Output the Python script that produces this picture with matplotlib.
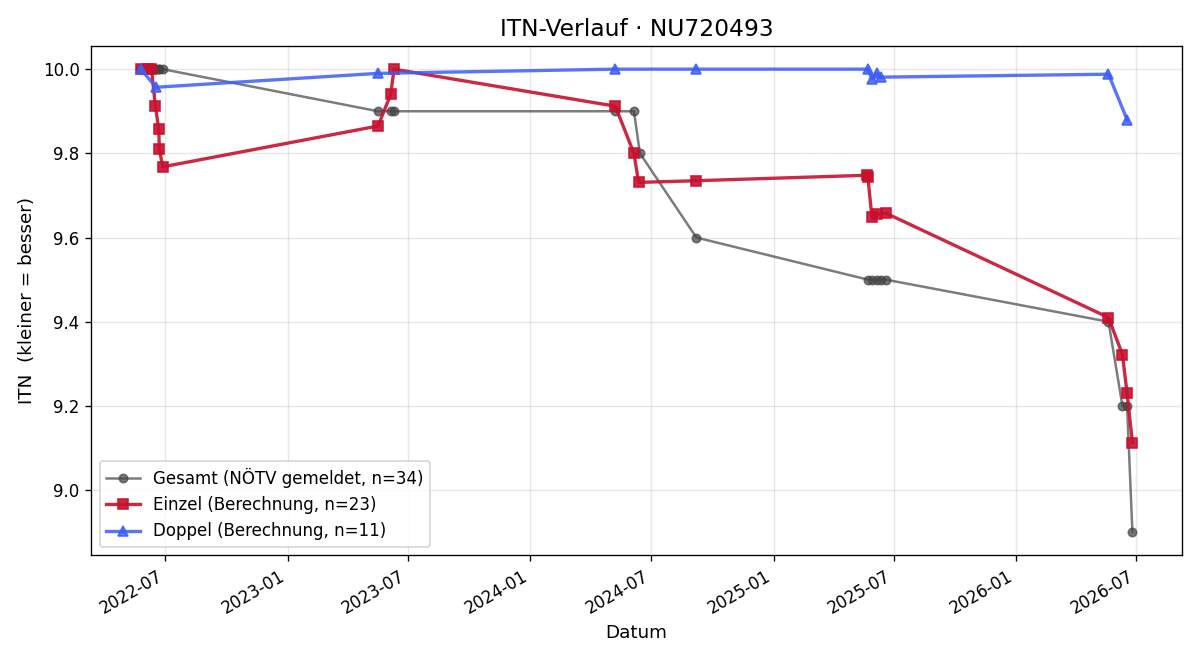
import matplotlib
matplotlib.use("Agg")
import matplotlib.pyplot as plt
import matplotlib.dates as mdates
import pandas as pd

gesamt_dates = ["2022-05-25", "2022-06-05", "2022-06-10", "2022-06-16", "2022-06-17",
                "2022-06-21", "2022-06-22", "2022-06-27",
                "2023-05-17", "2023-06-05", "2023-06-10",
                "2024-05-08", "2024-06-05", "2024-06-14", "2024-09-07",
                "2025-05-23", "2025-05-29", "2025-06-05", "2025-06-11", "2025-06-19",
                "2026-05-20", "2026-06-10", "2026-06-17", "2026-06-25"]
gesamt_vals = [10.0, 10.0, 10.0, 10.0, 10.0, 10.0, 10.0, 10.0,
               9.9, 9.9, 9.9,
               9.9, 9.9, 9.8, 9.6,
               9.5, 9.5, 9.5, 9.5, 9.5,
               9.4, 9.2, 9.2, 8.9]

einzel_dates = ["2022-05-25", "2022-06-05", "2022-06-10", "2022-06-16", "2022-06-21",
                "2022-06-22", "2022-06-27",
                "2023-05-17", "2023-06-05", "2023-06-10",
                "2024-05-08", "2024-06-05", "2024-06-12", "2024-09-07",
                "2025-05-22", "2025-05-23", "2025-05-29", "2025-06-05", "2025-06-19",
                "2026-05-20", "2026-06-10", "2026-06-17", "2026-06-25"]
einzel_vals = [10.0, 10.0, 10.0, 9.913, 9.857, 9.81, 9.768,
               9.865, 9.94, 10.0,
               9.912, 9.80, 9.731, 9.735,
               9.748, 9.743, 9.649, 9.656, 9.658,
               9.41, 9.322, 9.23, 9.113]

doppel_dates = ["2022-05-25", "2022-06-17", "2023-05-17", "2024-05-08", "2024-09-07",
                "2025-05-23", "2025-05-29", "2025-06-05", "2025-06-11",
                "2026-05-20", "2026-06-17"]
doppel_vals = [10.0, 9.957, 9.99, 10.0, 10.0,
               10.0, 9.977, 9.99, 9.981,
               9.988, 9.88]

fig, ax = plt.subplots(figsize=(10, 5.5), dpi=120)

ax.plot(pd.to_datetime(gesamt_dates), gesamt_vals, marker="o", markersize=5,
        color="#444444", alpha=0.7, linewidth=1.5,
        label="Gesamt (NÖTV gemeldet, n=34)")
ax.plot(pd.to_datetime(einzel_dates), einzel_vals, marker="s", markersize=6,
        color="#c8102e", alpha=0.9, linewidth=2,
        label="Einzel (Berechnung, n=23)")
ax.plot(pd.to_datetime(doppel_dates), doppel_vals, marker="^", markersize=6,
        color="#3d5ef5", alpha=0.85, linewidth=2,
        label="Doppel (Berechnung, n=11)")

ax.set_title("ITN-Verlauf · NU720493", fontsize=14)
ax.set_xlabel("Datum", fontsize=11)
ax.set_ylabel("ITN  (kleiner = besser)", fontsize=11)
ax.grid(True, alpha=0.3)
ax.xaxis.set_major_locator(mdates.MonthLocator(bymonth=[1, 7]))
ax.xaxis.set_major_formatter(mdates.DateFormatter("%Y-%m"))
ax.legend(loc="lower left", fontsize=10)
fig.autofmt_xdate()
fig.tight_layout()
fig.savefig("out.png", dpi=120)
